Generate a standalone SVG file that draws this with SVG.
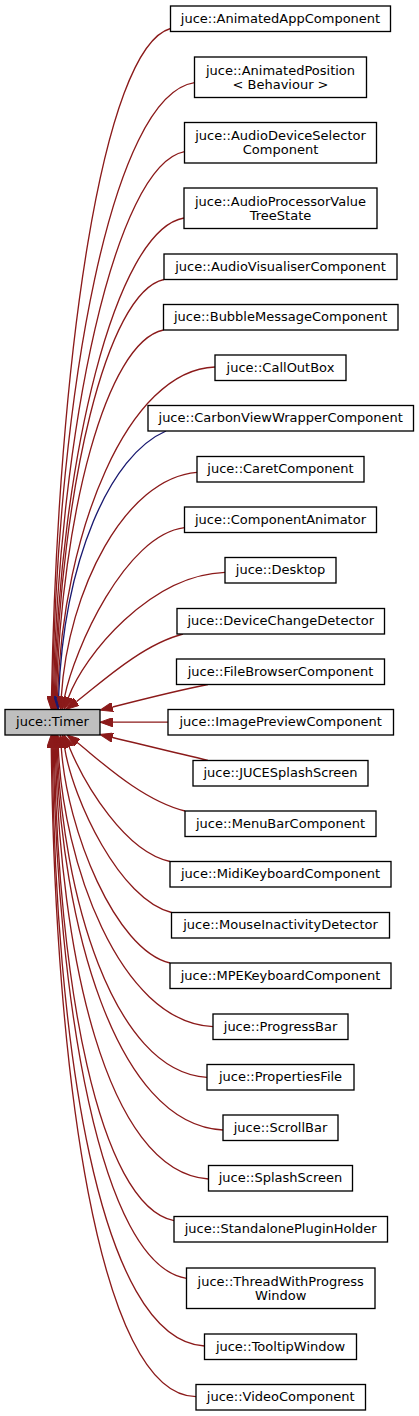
<svg xmlns="http://www.w3.org/2000/svg" width="419" height="1416" viewBox="0 0 419 1416">
<style>
.n rect{fill:#ffffff;stroke:#000000;stroke-width:1.33}
.root rect{fill:#bfbfbf}
.n text{font-family:"DejaVu Sans","Liberation Sans",sans-serif;font-size:13px;fill:#000000;text-anchor:middle}
.e path{fill:none;stroke-width:1.33}
.pr{stroke:#8b1a1a;marker-end:url(#ar)}
.pu{stroke:#191970;marker-end:url(#ab)}
</style>
<defs>
<marker id="ar" markerUnits="userSpaceOnUse" viewBox="0 0 13 9.4" refX="0" refY="4.7" markerWidth="13" markerHeight="9.4" orient="auto">
<path d="M0,0 L13,4.7 L0,9.4 z" fill="#8b1a1a" stroke="#8b1a1a" stroke-width="1"/>
</marker>
<marker id="ab" markerUnits="userSpaceOnUse" viewBox="0 0 13 9.4" refX="0" refY="4.7" markerWidth="13" markerHeight="9.4" orient="auto">
<path d="M0,0 L13,4.7 L0,9.4 z" fill="#191970" stroke="#191970" stroke-width="1"/>
</marker>
</defs>
<rect width="419" height="1416" fill="#ffffff"/>
<g id="edges" class="e">
<path class="pr" d="M170.5,28.5 C102,48 58,360 51.5,696.5"/>
<path class="pr" d="M194.5,82.7 C112,95 58,390 52.3,696.5"/>
<path class="pr" d="M184.5,151.7 C115,165 59,430 53.3,696.5"/>
<path class="pr" d="M184,218 C115,230 60,460 54.3,696.5"/>
<path class="pr" d="M164,279.5 C106,292 61,490 55.3,696.5"/>
<path class="pr" d="M163.5,330 C106,342 62,515 56.3,696.5"/>
<path class="pr" d="M215,367 C128,370 63,530 57.5,696.5"/>
<path class="pu" d="M166,431 C110,455 64,560 58.6,696.6"/>
<path class="pr" d="M197,472.3 C125,478 68,590 61.3,696.6"/>
<path class="pr" d="M184.5,527.7 C125,535 74,650 64.6,696.8"/>
<path class="pr" d="M225,572.3 C150,575 84,655 68.5,697.3"/>
<path class="pr" d="M183,634 C140,645 95,688 76.4,701.7"/>
<path class="pr" d="M208,684.5 C180,690 140,700 112.6,707"/>
<path class="pr" d="M168,722.2 L113,722.2"/>
<path class="pr" d="M208,760.3 C180,754 140,744 112.6,737.5"/>
<path class="pr" d="M185,811 C140,800 95,756 77.4,742.8"/>
<path class="pr" d="M170,861.5 C125,852 85,785 69.2,747"/>
<path class="pr" d="M171.5,912.5 C120,900 73,800 64.6,747.7"/>
<path class="pr" d="M170,963 C115,950 67,830 61.3,748"/>
<path class="pr" d="M213,1026.7 C118,1022 63,860 58.3,748"/>
<path class="pr" d="M207,1077.3 C112,1072 62,890 57.3,748"/>
<path class="pr" d="M223,1130 C115,1125 61,920 56.3,748"/>
<path class="pr" d="M208.5,1179 C105,1172 60,950 55.3,748"/>
<path class="pr" d="M174,1220.7 C98,1205 58,980 54.3,748"/>
<path class="pr" d="M186.5,1278.3 C100,1265 57,1000 53.3,748"/>
<path class="pr" d="M204.5,1346 C98,1340 55,1040 52.3,748"/>
<path class="pr" d="M196,1396.7 C98,1396 55,1070 51.3,748"/>
</g>
<g id="timer" class="n root"><rect x="5" y="709.5" width="95" height="25.5"/><text x="52.5" y="726.4">juce::Timer</text></g>
<g id="n1" class="n"><rect x="170.5" y="6" width="220" height="25.5"/><text x="280.5" y="22.7">juce::AnimatedAppComponent</text></g>
<g id="n2" class="n"><rect x="194.5" y="57" width="172" height="40.5"/><text x="280.5" y="74.6">juce::AnimatedPosition</text><text x="280.5" y="88.9">&lt; Behaviour &gt;</text></g>
<g id="n3" class="n"><rect x="184.5" y="122.5" width="192" height="40.5"/><text x="280.5" y="140.1">juce::AudioDeviceSelector</text><text x="280.5" y="154.4">Component</text></g>
<g id="n4" class="n"><rect x="184" y="188" width="193" height="40.5"/><text x="280.5" y="205.6">juce::AudioProcessorValue</text><text x="280.5" y="219.9">TreeState</text></g>
<g id="n5" class="n"><rect x="164" y="254" width="233" height="25.5"/><text x="280.5" y="270.7">juce::AudioVisualiserComponent</text></g>
<g id="n6" class="n"><rect x="163.5" y="304.5" width="234.5" height="25.5"/><text x="280.7" y="321.2">juce::BubbleMessageComponent</text></g>
<g id="n7" class="n"><rect x="215" y="355" width="131" height="25.5"/><text x="280.5" y="371.7">juce::CallOutBox</text></g>
<g id="n8" class="n"><rect x="148" y="405.5" width="265.5" height="25.5"/><text x="280.7" y="422.2">juce::CarbonViewWrapperComponent</text></g>
<g id="n9" class="n"><rect x="197" y="456.5" width="167" height="25.5"/><text x="280.5" y="473.2">juce::CaretComponent</text></g>
<g id="n10" class="n"><rect x="184.5" y="507" width="192" height="25.5"/><text x="280.5" y="523.7">juce::ComponentAnimator</text></g>
<g id="n11" class="n"><rect x="225" y="557.5" width="111" height="25.5"/><text x="280.5" y="574.2">juce::Desktop</text></g>
<g id="n12" class="n"><rect x="177" y="608.5" width="207.5" height="25.5"/><text x="280.7" y="625.2">juce::DeviceChangeDetector</text></g>
<g id="n13" class="n"><rect x="176.5" y="659" width="208" height="25.5"/><text x="280.5" y="675.7">juce::FileBrowserComponent</text></g>
<g id="n14" class="n"><rect x="168" y="709.5" width="225.5" height="25.5"/><text x="280.7" y="726.2">juce::ImagePreviewComponent</text></g>
<g id="n15" class="n"><rect x="193" y="760.5" width="175" height="25.5"/><text x="280.5" y="777.2">juce::JUCESplashScreen</text></g>
<g id="n16" class="n"><rect x="185" y="811" width="191" height="25.5"/><text x="280.5" y="827.7">juce::MenuBarComponent</text></g>
<g id="n17" class="n"><rect x="170" y="861.5" width="221" height="25.5"/><text x="280.5" y="878.2">juce::MidiKeyboardComponent</text></g>
<g id="n18" class="n"><rect x="171.5" y="912.5" width="218" height="25.5"/><text x="280.5" y="929.2">juce::MouseInactivityDetector</text></g>
<g id="n19" class="n"><rect x="170" y="963" width="221" height="25.5"/><text x="280.5" y="979.7">juce::MPEKeyboardComponent</text></g>
<g id="n20" class="n"><rect x="213" y="1014" width="135" height="25.5"/><text x="280.5" y="1030.7">juce::ProgressBar</text></g>
<g id="n21" class="n"><rect x="207" y="1064.5" width="147" height="25.5"/><text x="280.5" y="1081.2">juce::PropertiesFile</text></g>
<g id="n22" class="n"><rect x="223" y="1115" width="115" height="25.5"/><text x="280.5" y="1131.7">juce::ScrollBar</text></g>
<g id="n23" class="n"><rect x="208.5" y="1165.5" width="144" height="25.5"/><text x="280.5" y="1182.2">juce::SplashScreen</text></g>
<g id="n24" class="n"><rect x="174" y="1216.5" width="213.5" height="25.5"/><text x="280.7" y="1233.2">juce::StandalonePluginHolder</text></g>
<g id="n25" class="n"><rect x="186.5" y="1268" width="188.5" height="40.5"/><text x="280.7" y="1285.6">juce::ThreadWithProgress</text><text x="280.7" y="1299.9">Window</text></g>
<g id="n26" class="n"><rect x="204.5" y="1334" width="152" height="25.5"/><text x="280.5" y="1350.7">juce::TooltipWindow</text></g>
<g id="n27" class="n"><rect x="196" y="1384.5" width="169.5" height="25.5"/><text x="280.7" y="1401.2">juce::VideoComponent</text></g>
</svg>
